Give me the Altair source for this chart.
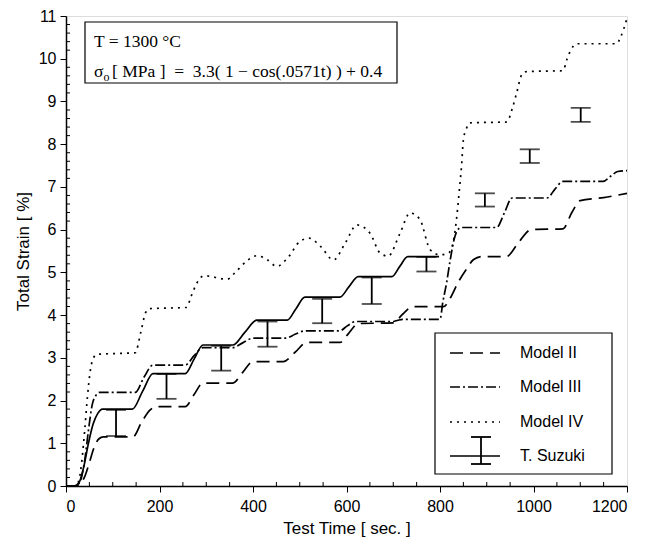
import altair as alt
import pandas as pd

# ---------------- data ----------------
# T. Suzuki fitted curve (solid)
suz_t = [0, 18, 28, 38, 48, 58, 68, 78, 142, 164, 186, 255, 274, 293, 357, 382, 408,
         473, 492, 511, 586, 605, 625, 697, 714, 731, 798]
suz_v = [0, 0, 0.08, 0.45, 1.0, 1.45, 1.7, 1.8, 1.8, 2.22, 2.63, 2.63, 2.97, 3.30, 3.30,
         3.59, 3.88, 3.88, 4.15, 4.42, 4.42, 4.66, 4.90, 4.90, 5.14, 5.37, 5.37]

# Model II (dashed)
m2_t = [0, 20, 30, 40, 50, 60, 70, 80, 143, 162, 180, 192, 255, 274, 293, 357, 378, 400,
        465, 490, 515, 586, 605, 625, 700, 720, 742, 808, 822, 838, 855, 872, 890, 942,
        968, 995, 1063, 1082, 1100, 1150, 1200]
m2_v = [0, 0, 0.05, 0.22, 0.55, 0.9, 1.1, 1.15, 1.15, 1.5, 1.78, 1.86, 1.86, 2.14, 2.41,
        2.41, 2.66, 2.91, 2.91, 3.13, 3.36, 3.36, 3.58, 3.80, 3.82, 4.02, 4.2, 4.2, 4.4,
        4.75, 5.05, 5.3, 5.37, 5.37, 5.7, 6.0, 6.02, 6.4, 6.68, 6.75, 6.85]

# Model III (dash-dot)
m3_t = [0, 20, 30, 40, 48, 56, 64, 72, 148, 167, 186, 255, 274, 293, 357, 378, 400, 470,
        490, 510, 585, 602, 620, 700, 710, 720, 800, 806, 814, 822, 830, 838, 846, 921,
        938, 954, 1029, 1046, 1063, 1149, 1165, 1180, 1200]
m3_v = [0, 0, 0.1, 0.6, 1.3, 1.9, 2.12, 2.19, 2.19, 2.55, 2.83, 2.83, 3.05, 3.24, 3.24,
        3.35, 3.46, 3.46, 3.55, 3.63, 3.63, 3.75, 3.85, 3.85, 3.88, 3.9, 3.9, 4.3, 4.75,
        5.3, 5.76, 6.0, 6.05, 6.05, 6.4, 6.74, 6.74, 6.95, 7.13, 7.13, 7.25, 7.36, 7.38]

# Model IV (dotted)
m4_t = [0, 20, 28, 34, 40, 46, 52, 58, 66, 148, 160, 170, 178, 258, 268, 280, 295, 345,
        362, 385, 408, 430, 451, 475, 500, 520, 545, 572, 598, 622, 650, 672, 689, 714,
        736, 757, 779, 800, 818, 828, 836, 842, 846, 850, 856, 864, 943, 955, 964, 975,
        985, 1063, 1072, 1080, 1093, 1178, 1186, 1193, 1200]
m4_v = [0, 0, 0.15, 0.6, 1.3, 2.1, 2.7, 2.98, 3.08, 3.12, 3.6, 4.05, 4.15, 4.18, 4.45,
        4.75, 4.92, 4.84, 5.0, 5.25, 5.39, 5.3, 5.14, 5.35, 5.72, 5.8, 5.6, 5.29, 5.7,
        6.11, 5.92, 5.45, 5.38, 5.9, 6.39, 6.24, 5.53, 5.41, 5.45, 5.7, 6.31, 7.0, 7.48,
        8.1, 8.35, 8.5, 8.52, 8.85, 9.2, 9.63, 9.7, 9.72, 10.0, 10.21, 10.35, 10.35, 10.5,
        10.7, 10.95]

# T. Suzuki experimental error bars
eb_t = [107, 215, 332, 431, 548, 654, 771, 896, 992, 1101]
eb_lo = [1.17, 2.04, 2.70, 3.26, 3.81, 4.26, 5.02, 6.54, 7.56, 8.52]
eb_hi = [1.78, 2.62, 3.28, 3.85, 4.38, 4.88, 5.36, 6.85, 7.88, 8.85]

x_major = [0, 200, 400, 600, 800, 1000, 1200]
x_minor = [v for v in range(50, 1200, 50) if v % 200 != 0]
y_major = list(range(0, 12))
y_minor = [round(i * 0.2, 1) for i in range(1, 55) if i % 5 != 0]

legend_labels = ["Model II", "Model III", "Model IV", "T. Suzuki"]

# ---------------- chart ----------------
W, H = 561, 470
SANS = "Liberation Sans"
SERIF = "Liberation Serif"
NB = "\u00a0"

xs = alt.Scale(domain=[0, 1200], nice=False, zero=False)
ys = alt.Scale(domain=[0, 11], nice=False, zero=False)

x_axis = alt.Axis(values=x_major, title="Test Time [ sec. ]", grid=False,
                  labelFont=SANS, labelFontSize=16, labelColor="black",
                  titleFont=SANS, titleFontSize=17, titleFontWeight="normal",
                  titleColor="black", titlePadding=6, tickSize=6, tickColor="black",
                  domainColor="black", domainWidth=1.5, labelPadding=6, format="d")
y_axis = alt.Axis(values=y_major, title="Total Strain [ %]", grid=False,
                  labelFont=SANS, labelFontSize=16, labelColor="black",
                  titleFont=SANS, titleFontSize=17, titleFontWeight="normal",
                  titleColor="black", titlePadding=6, tickSize=6, tickColor="black",
                  domainColor="black", domainWidth=1.5, labelPadding=4, format="d")

X = alt.X("t:Q", scale=xs, axis=x_axis)
Y = alt.Y("v:Q", scale=ys, axis=y_axis)
LW = 1.7


def curve(t, v, dash=None):
    kw = dict(color="black", strokeWidth=LW, interpolate="monotone")
    if dash:
        kw["strokeDash"] = dash
    return alt.Chart(pd.DataFrame({"t": t, "v": v})).mark_line(**kw).encode(x=X, y=Y)


DASH2 = [13, 7]
DASH3 = [10, 3, 2, 3]
DASH4 = [2, 5]

layers = [
    curve(m2_t, m2_v, DASH2),
    curve(m3_t, m3_v, DASH3),
    curve(m4_t, m4_v, DASH4),
    curve(suz_t, suz_v),
]

eb_df = pd.DataFrame({"t": eb_t, "v": eb_lo, "v2": eb_hi})
layers.append(alt.Chart(eb_df).mark_rule(color="black", strokeWidth=1.8).encode(
    x=X, y=Y, y2="v2:Q"))
layers.append(alt.Chart(eb_df).mark_tick(color="black", orient="horizontal", size=20,
                                          thickness=1.8).encode(x=X, y=Y))
layers.append(alt.Chart(eb_df).mark_tick(color="black", orient="horizontal", size=20,
                                          thickness=1.8).encode(x=X, y=alt.Y("v2:Q", scale=ys, axis=y_axis)))

# minor ticks (inward)
layers.append(alt.Chart(pd.DataFrame({"t": x_minor})).mark_rule(color="black", strokeWidth=1).encode(
    x=X, y=alt.value(H), y2=alt.value(H - 4)))
layers.append(alt.Chart(pd.DataFrame({"v": y_minor})).mark_rule(color="black", strokeWidth=1).encode(
    y=Y, x=alt.value(0), x2=alt.value(4)))

# ---------- annotation box (top-left) ----------
base = alt.Chart(pd.DataFrame({"a": [0]}))
layers.append(base.mark_rect(fill="white", stroke="black", strokeWidth=1.2).encode(
    x=alt.value(19), x2=alt.value(331), y=alt.value(6), y2=alt.value(67)))
layers.append(base.mark_text(text="T = 1300 °C", font=SERIF, fontSize=17.5, align="left",
                             baseline="alphabetic", color="black").encode(
    x=alt.value(28), y=alt.value(31)))
layers.append(base.mark_text(text="σ", font=SERIF, fontSize=17.5, align="left",
                             baseline="alphabetic", color="black").encode(
    x=alt.value(28), y=alt.value(61)))
layers.append(base.mark_text(text="o", font=SERIF, fontSize=12, align="left",
                             baseline="alphabetic", color="black").encode(
    x=alt.value(37.5), y=alt.value(65)))
layers.append(base.mark_text(text="[ MPa ] " + NB + "= " + NB + "3.3( 1 − cos(.0571t) ) + 0.4",
                             font=SERIF, fontSize=17.5, align="left", baseline="alphabetic",
                             color="black").encode(x=alt.value(46), y=alt.value(61)))

# ---------- legend box (bottom-right) ----------
LX0, LX1, LY0, LY1 = 369, 546, 317, 458
rows = [337, 371, 406, 440]
SX0, SX1, TX = 384, 434, 454
layers.append(base.mark_rect(fill="white", stroke="black", strokeWidth=1.2).encode(
    x=alt.value(LX0), x2=alt.value(LX1), y=alt.value(LY0), y2=alt.value(LY1)))
for dash, ry in zip([DASH2, DASH3, DASH4, None], rows):
    kw = dict(color="black", strokeWidth=LW)
    if dash:
        kw["strokeDash"] = dash
    layers.append(base.mark_rule(**kw).encode(
        x=alt.value(SX0), x2=alt.value(SX1), y=alt.value(ry)))
for lab, ry in zip(legend_labels, rows):
    layers.append(base.mark_text(text=lab, font=SANS, fontSize=16, align="left",
                                 baseline="middle", color="black").encode(
        x=alt.value(TX), y=alt.value(ry)))
# error-bar glyph for T. Suzuki
layers.append(base.mark_rule(color="black", strokeWidth=1.8).encode(
    x=alt.value(415), y=alt.value(421), y2=alt.value(448)))
for cy in (421, 448):
    layers.append(base.mark_rule(color="black", strokeWidth=1.8).encode(
        x=alt.value(405), x2=alt.value(425), y=alt.value(cy)))

chart = alt.layer(*layers).properties(
    width=W, height=H,
    autosize=alt.AutoSizeParams(type="none"),
    padding={"left": 66, "top": 16, "right": 20, "bottom": 56},
).configure_view(stroke="black", strokeWidth=1.5).configure(background="white")

chart.save("out.html", embed_options={"renderer": "svg", "actions": False})
